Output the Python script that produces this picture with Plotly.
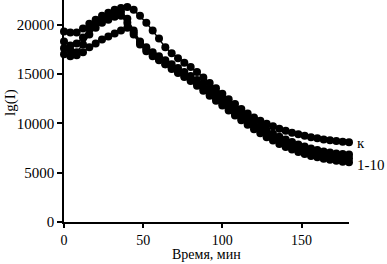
import plotly.graph_objects as go

time_min = [0, 4, 8, 12, 16, 20, 24, 28, 32, 36, 40, 44, 48, 52, 56, 60, 64, 68, 72, 76,
            80, 84, 88, 92, 96, 100, 104, 108, 112, 116, 120, 124, 128, 132, 136, 140,
            144, 148, 152, 156, 160, 164, 168, 172, 176, 180]

series_k = [19300, 19200, 19200, 19600, 20100, 20500, 20900, 21200, 21500, 21700, 21800,
            21500, 20900, 20200, 19400, 18600, 17700, 17100, 16600, 16150, 15700, 15200,
            14650, 14100, 13550, 13000, 12450, 11950, 11450, 11000, 10600, 10250, 9950,
            9700, 9450, 9250, 9050, 8900, 8750, 8600, 8480, 8370, 8280, 8200, 8130, 8080]

series_m = [18300, 17900, 18100, 18700, 19600, 20200, 20600, 20900, 21200, 21300, 20600,
            19400, 18300, 17700, 17200, 16800, 16400, 16000, 15600, 15200, 14800, 14400,
            14000, 13500, 13000, 12500, 12000, 11500, 11000, 10550, 10100, 9700, 9300,
            8950, 8650, 8350, 8100, 7850, 7650, 7450, 7300, 7150, 7050, 6950, 6900, 6850]

series_n = [17600, 17400, 17200, 18000, 19000, 19700, 20200, 20500, 20800, 20900, 20200,
            19000, 18000, 17300, 16800, 16400, 16000, 15600, 15200, 14800, 14400, 14000,
            13500, 13000, 12500, 12000, 11500, 11000, 10500, 10050, 9650, 9250, 8900,
            8550, 8250, 7950, 7700, 7450, 7250, 7050, 6900, 6750, 6650, 6550, 6500, 6450]

series_l = [17000, 16800, 16900, 17200, 17700, 18100, 18500, 18800, 19100, 19400, 19700,
            19200, 18200, 17500, 17000, 16500, 16000, 15500, 15100, 14700, 14300, 13800,
            13300, 12800, 12300, 11800, 11300, 10800, 10300, 9850, 9400, 9000, 8600,
            8250, 7900, 7600, 7350, 7100, 6900, 6700, 6550, 6400, 6300, 6200, 6100, 6050]

x_ticks = [0, 50, 100, 150]
y_ticks = [0, 5000, 10000, 15000, 20000]
y_tick_text = ["0", "5000", "10000", "15000", "20000"]
label_k = "к"
label_rest = "1-10"
x_title = "Время, мин"
y_title = "lg(I)"

FONT = "Liberation Serif, Times New Roman, serif"

fig = go.Figure()
for ys in [series_l, series_n, series_m, series_k]:
    fig.add_trace(go.Scatter(
        x=time_min, y=ys, mode="lines+markers",
        line=dict(color="black", width=1.5),
        marker=dict(color="black", size=8, symbol="circle"),
        cliponaxis=False, showlegend=False, hoverinfo="skip"))

fig.update_layout(
    width=387, height=264,
    margin=dict(l=64, r=38, t=0, b=42),
    paper_bgcolor="white", plot_bgcolor="white",
    font=dict(family=FONT, size=15, color="black"),
    xaxis=dict(range=[0, 180], tickvals=x_ticks, ticks="outside", ticklen=4,
               tickwidth=1.5, tickcolor="black", showline=True, linecolor="black",
               linewidth=1.5, showgrid=False, zeroline=False,
               tickfont=dict(family=FONT, size=14)),
    yaxis=dict(range=[0, 22500], tickvals=y_ticks, ticktext=y_tick_text,
               ticks="outside", ticklen=5,
               tickwidth=1.5, tickcolor="black", showline=True, linecolor="black",
               linewidth=1.5, showgrid=False, zeroline=False,
               tickfont=dict(family=FONT, size=15)),
    annotations=[
        dict(text=x_title, xref="paper", yref="paper", x=0.5, y=-0.148,
             xanchor="center", yanchor="middle", showarrow=False,
             font=dict(family=FONT, size=14)),
        dict(text=y_title, xref="paper", yref="paper", x=-0.19, y=0.54,
             xanchor="center", yanchor="middle", showarrow=False, textangle=-90,
             font=dict(family=FONT, size=15)),
        dict(text=label_k, xref="paper", yref="paper", x=1.021, y=0.356,
             xanchor="left", yanchor="middle", showarrow=False,
             font=dict(family=FONT, size=15)),
        dict(text=label_rest, xref="paper", yref="paper", x=1.021, y=0.257,
             xanchor="left", yanchor="middle", showarrow=False,
             font=dict(family=FONT, size=15)),
    ],
)

fig.write_html("out.html", config={"displayModeBar": False},
               post_script="document.body.style.margin='0';document.body.style.overflow='hidden';")
